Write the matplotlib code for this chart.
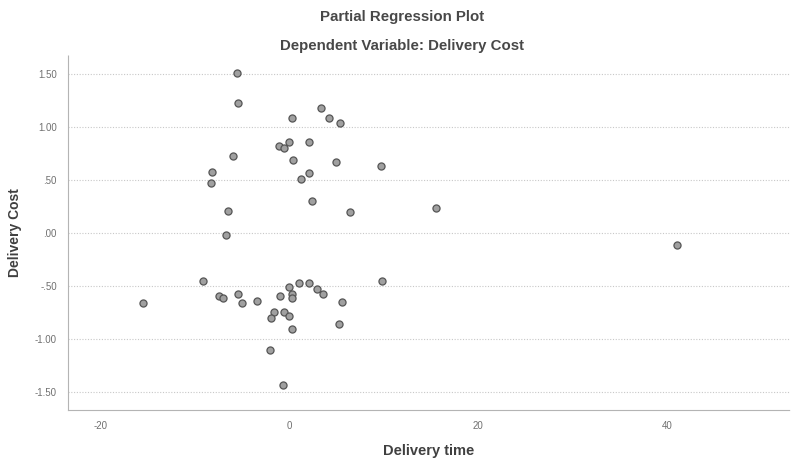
import matplotlib
matplotlib.use("Agg")
import matplotlib.pyplot as plt

# Partial regression residuals: delivery time vs delivery cost
delivery_time = [
    -5.6, -5.5, 0.3, 3.3, 4.2, 5.3, -1.1, -0.6, -0.1, 2.0, 0.35, 4.9, -6.0,
    -8.2, -8.3, 1.2, 2.1, 9.7, -6.5, 2.4, 6.4, -6.8, 15.5, 41.1, 9.8, -15.6,
    -9.2, -7.5, -7.1, -5.5, -5.1, -3.5, -1.0, -0.1, 0.25, 0.2, 1.0, 2.0, 2.9,
    3.5, 5.5, 5.2, -1.7, -2.0, -0.6, -0.1, 0.3, -2.1, -0.7,
]
delivery_cost = [
    1.51, 1.23, 1.09, 1.18, 1.09, 1.04, 0.82, 0.80, 0.86, 0.86, 0.69, 0.67, 0.73,
    0.58, 0.47, 0.51, 0.57, 0.63, 0.21, 0.30, 0.20, -0.02, 0.24, -0.11, -0.45, -0.66,
    -0.45, -0.59, -0.61, -0.58, -0.66, -0.64, -0.59, -0.51, -0.58, -0.61, -0.47, -0.47, -0.53,
    -0.58, -0.65, -0.86, -0.75, -0.80, -0.75, -0.78, -0.91, -1.10, -1.43,
]

y_ticks = [1.5, 1.0, 0.5, 0.0, -0.5, -1.0, -1.5]
y_tick_labels = ["1.50", "1.00", ".50", ".00", "-.50", "-1.00", "-1.50"]
x_ticks = [-20, 0, 20, 40]
x_tick_labels = ["-20", "0", "20", "40"]

plt.rcParams["font.family"] = ["Liberation Sans", "DejaVu Sans"]

fig = plt.figure(figsize=(7.96, 4.62), dpi=100)
ax = fig.add_axes([0.0854, 0.1126, 0.9066, 0.7684])

# dotted reference lines at each tick level
for yv in y_ticks:
    ax.axhline(yv, color="#c8c8c8", linestyle=(0, (1, 1.5)), linewidth=0.8, zorder=1)

ax.scatter(delivery_time, delivery_cost, s=26, facecolor="#a0a0a0",
           edgecolor="#555555", linewidth=0.9, zorder=3)

ax.set_xlim(-23.5, 53)
ax.set_ylim(-1.67, 1.68)
ax.set_xticks(x_ticks)
ax.set_xticklabels(x_tick_labels)
ax.set_yticks(y_ticks)
ax.set_yticklabels(y_tick_labels)
ax.tick_params(length=0, labelsize=7, colors="#707070", pad=8)

for side in ["top", "right"]:
    ax.spines[side].set_visible(False)
for side in ["left", "bottom"]:
    ax.spines[side].set_color("#b4b4b4")
    ax.spines[side].set_linestyle((0, (1, 1)))
    ax.spines[side].set_linewidth(0.8)

ax.set_xlabel("Delivery time", fontsize=10.5, color="#404040", fontweight="bold", labelpad=9)
ax.set_ylabel("Delivery Cost", fontsize=10, color="#404040", fontweight="bold", labelpad=9)

fig.text(0.505, 0.963, "Partial Regression Plot", ha="center", va="center",
         fontsize=10.8, color="#484848", fontweight="bold")
fig.text(0.505, 0.9, "Dependent Variable: Delivery Cost", ha="center", va="center",
         fontsize=10.8, color="#484848", fontweight="bold")

fig.savefig("out.png", dpi=100, facecolor="white")
